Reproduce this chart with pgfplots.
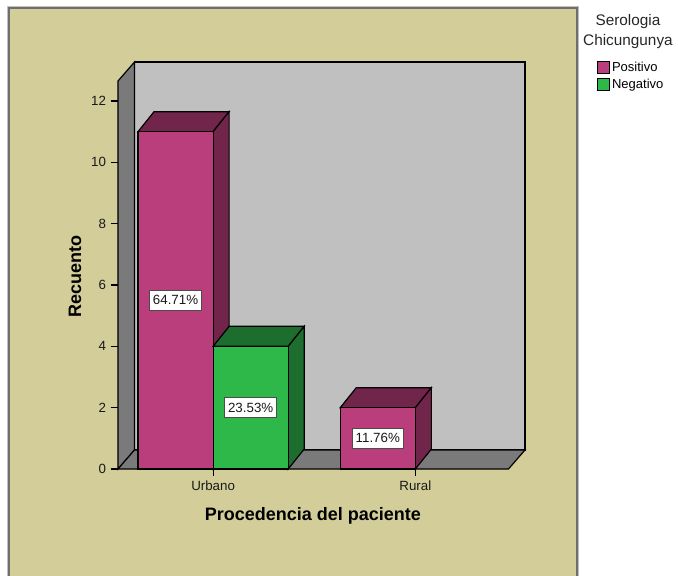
\documentclass[border=0pt]{standalone}
\usepackage{fontspec}
\setmainfont{Liberation Sans}
\usepackage{pgfplots}
\pgfplotsset{compat=1.18}

\definecolor{panel}{RGB}{211,206,153}
\definecolor{panelborder}{RGB}{110,110,110}
\definecolor{wallback}{RGB}{192,192,192}
\definecolor{wallside}{RGB}{122,122,122}
\definecolor{posfront}{RGB}{186,61,124}
\definecolor{posdark}{RGB}{114,37,75}
\definecolor{negfront}{RGB}{46,184,74}
\definecolor{negdark}{RGB}{29,110,46}

% small square legend swatch
\pgfplotsset{square legend/.style={
  legend image code/.code={\draw[##1,line width=0.6pt] (0pt,-4.2pt) rectangle (8.5pt,4.3pt);}}}

\begin{document}
\begin{tikzpicture}[font=\fontsize{9.75pt}{11.5pt}\selectfont]
% page area and chart panel
\path[use as bounding box] (-88.5pt,-79.5pt) rectangle (420pt,351.75pt);
\fill[panel] (-81.75pt,-85pt) rectangle (344.25pt,345.75pt);
\draw[black!25, line width=0.75pt] (-82.6pt,-85pt) -- (-82.6pt,346.6pt) -- (345.1pt,346.6pt) -- (345.1pt,-85pt);
\draw[panelborder, line width=1pt] (-81.75pt,-85pt) -- (-81.75pt,345.75pt) -- (344.25pt,345.75pt) -- (344.25pt,-85pt);

\begin{axis}[
  at={(0pt,0pt)}, anchor=south west,
  scale only axis, width=305.25pt, height=305.25pt,
  xmin=-0.4703, xmax=1.5421, ymin=0, ymax=13.272,
  clip=false,
  axis line style={draw=none},
  xtick={0,1}, xticklabels={Urbano,Rural},
  ytick={0,2,4,6,8,10,12},
  xtick pos=bottom, ytick pos=left,
  tick align=outside, major tick length=5.5pt,
  tick style={black, line width=0.9pt},
  /pgf/number format/assume math mode=true,
  ticklabel style={font=\fontsize{10pt}{12pt}\selectfont, text=black!90},
  xlabel={Procedencia del paciente},
  ylabel={Recuento},
  label style={font=\bfseries\fontsize{13.5pt}{16pt}\selectfont, text=black},
  xlabel style={at={(rel axis cs:0.479,-0.1155)}, anchor=center},
  ylabel style={at={(rel axis cs:-0.1057,0.474)}, anchor=center},
  legend style={at={(rel axis cs:1.1769,1.0074)}, anchor=north west,
    draw=none, fill=none, inner sep=0pt,
    font=\fontsize{9.75pt}{12pt}\selectfont, cells={anchor=west}},
  every axis plot/.append style={line width=0.9pt},
]
% back wall, left wall and floor
\addplot[fill=wallback, draw=black, forget plot] coordinates
  {(-0.3886,0.62) (1.5421,0.62) (1.5421,13.272) (-0.3886,13.272)} -- cycle;
\addplot[fill=wallside, draw=black, forget plot] coordinates
  {(-0.4703,0) (-0.4703,12.652) (-0.3886,13.272) (-0.3886,0.62)} -- cycle;
\addplot[fill=wallside, draw=black, forget plot] coordinates
  {(-0.4703,0) (-0.3886,0.62) (1.5421,0.62) (1.4604,0)} -- cycle;

% Positivo: top and side faces
\addplot[fill=posdark, draw=black, forget plot] coordinates
  {(-0.3713,11) (0,11) (0.0792,11.652) (-0.2921,11.652)} -- cycle;
\addplot[fill=posdark, draw=black, forget plot] coordinates
  {(0,0) (0.0792,0.652) (0.0792,11.652) (0,11)} -- cycle;
\addplot[fill=posdark, draw=black, forget plot] coordinates
  {(0.6287,2) (1,2) (1.0792,2.652) (0.7079,2.652)} -- cycle;
\addplot[fill=posdark, draw=black, forget plot] coordinates
  {(1,0) (1.0792,0.652) (1.0792,2.652) (1,2)} -- cycle;
% Positivo: front faces
\addplot[ybar, bar width=0.3713, bar shift=-0.18565, fill=posfront, draw=black,
  square legend]
  coordinates {(0,11) (1,2)};
\addlegendentry{Positivo}

% Negativo: top and side faces
\addplot[fill=negdark, draw=black, forget plot] coordinates
  {(0,4) (0.3713,4) (0.4505,4.652) (0.0792,4.652)} -- cycle;
\addplot[fill=negdark, draw=black, forget plot] coordinates
  {(0.3713,0) (0.4505,0.652) (0.4505,4.652) (0.3713,4)} -- cycle;
% Negativo: front face
\addplot[ybar, bar width=0.3713, bar shift=0.18565, fill=negfront, draw=black,
  square legend]
  coordinates {(0,4)};
\addlegendentry{Negativo}

% percentage labels in the middle of each bar
\addplot[draw=none, mark=none, forget plot, nodes near coords,
  point meta=explicit symbolic, nodes near coords align=center,
  every node near coord/.style={fill=white, draw=black!70, line width=0.7pt,
    inner xsep=2.6pt, inner ysep=4pt, text=black!90,
    font=\fontsize{10pt}{12pt}\selectfont}]
  coordinates {(-0.18565,5.5)[64.71\%] (0.18565,2)[23.53\%] (0.81435,1)[11.76\%]};

% legend title
\node[align=center, font=\fontsize{11.5pt}{15pt}\selectfont, text=black!85]
  at (rel axis cs:1.253,1.0737) {Serologia\\Chicungunya};
\end{axis}
\end{tikzpicture}
\end{document}
